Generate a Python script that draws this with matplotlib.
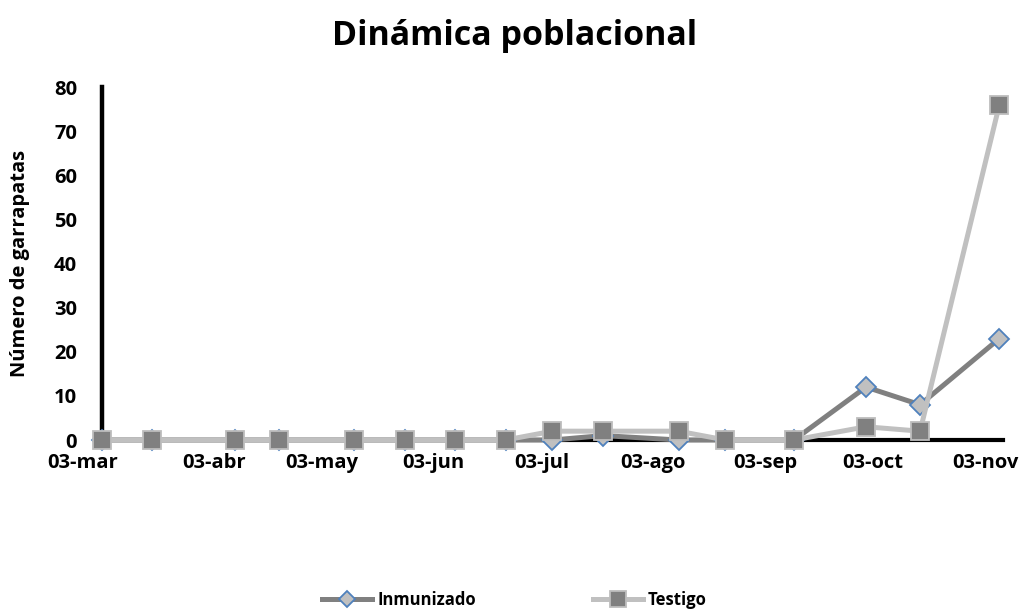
import datetime as dt
import matplotlib
matplotlib.use("Agg")
import matplotlib.pyplot as plt
import matplotlib.transforms as mtransforms
from matplotlib.ticker import MultipleLocator

plt.rcParams['font.family'] = ['Open Sans', 'DejaVu Sans']

# sampling dates (roughly every two weeks)
fechas = ["2010-03-03", "2010-03-17", "2010-04-09", "2010-04-21",
          "2010-05-12", "2010-05-26", "2010-06-09", "2010-06-23",
          "2010-07-06", "2010-07-20", "2010-08-10", "2010-08-23",
          "2010-09-11", "2010-10-01", "2010-10-16", "2010-11-07"]
inmunizado = [0, 0, 0, 0, 0, 0, 0, 0, 0, 1, 0, 0, 0, 12, 8, 23]
testigo = [0, 0, 0, 0, 0, 0, 0, 0, 2, 2, 2, 0, 0, 3, 2, 76]

meses = ["03-mar", "03-abr", "03-may", "03-jun", "03-jul",
         "03-ago", "03-sep", "03-oct", "03-nov"]

x = [dt.datetime.strptime(f, "%Y-%m-%d") for f in fechas]
ticks = [dt.datetime(2010, m, 3) for m in range(3, 12)]

fig = plt.figure(figsize=(10.29, 6.09), dpi=100)
ax = fig.add_axes([0.0991, 0.2775, 0.8756, 0.5795])

ax.plot(x, inmunizado, color="#808080", lw=3.6, marker="D", ms=10,
        mfc="#c0c0c0", mec="#4f81bd", mew=1.3, label="Inmunizado",
        zorder=3, clip_on=False)
ax.plot(x, testigo, color="#c0c0c0", lw=3.6, marker="s", ms=13,
        mfc="#808080", mec="#bdbdbd", mew=1.3, label="Testigo",
        zorder=4, clip_on=False)

ax.set_xlim(dt.datetime(2010, 3, 3), dt.datetime(2010, 11, 8))
ax.set_ylim(0, 80)
ax.yaxis.set_major_locator(MultipleLocator(10))
ax.set_xticks(ticks)
ax.set_xticklabels(meses)

for s in ["top", "right"]:
    ax.spines[s].set_visible(False)
ax.spines["left"].set_linewidth(3.2)
ax.spines["bottom"].set_linewidth(3)
ax.tick_params(length=0, labelsize=14.5)
ax.tick_params(axis="y", pad=18)
ax.tick_params(axis="x", pad=9)
for lab in ax.get_xticklabels() + ax.get_yticklabels():
    lab.set_fontweight("bold")
# first date label sits a bit to the left, as in the original
first = ax.get_xticklabels()[0]
first.set_transform(first.get_transform() +
                    mtransforms.ScaledTranslation(-0.19, 0, fig.dpi_scale_trans))

ax.set_ylabel("Número de garrapatas", fontsize=14.5, fontweight="bold")
ax.yaxis.set_label_coords(-0.080, 0.5)
fig.suptitle("Dinámica poblacional", fontsize=24.5, fontweight="bold", y=0.968)

fig.legend(loc="lower center", bbox_to_anchor=(0.5, -0.025), ncol=2, frameon=False,
           prop={"weight": "bold", "size": 12}, handlelength=3.0,
           columnspacing=7, handletextpad=0.3, markerscale=0.85)

fig.savefig("out.png", dpi=100)
